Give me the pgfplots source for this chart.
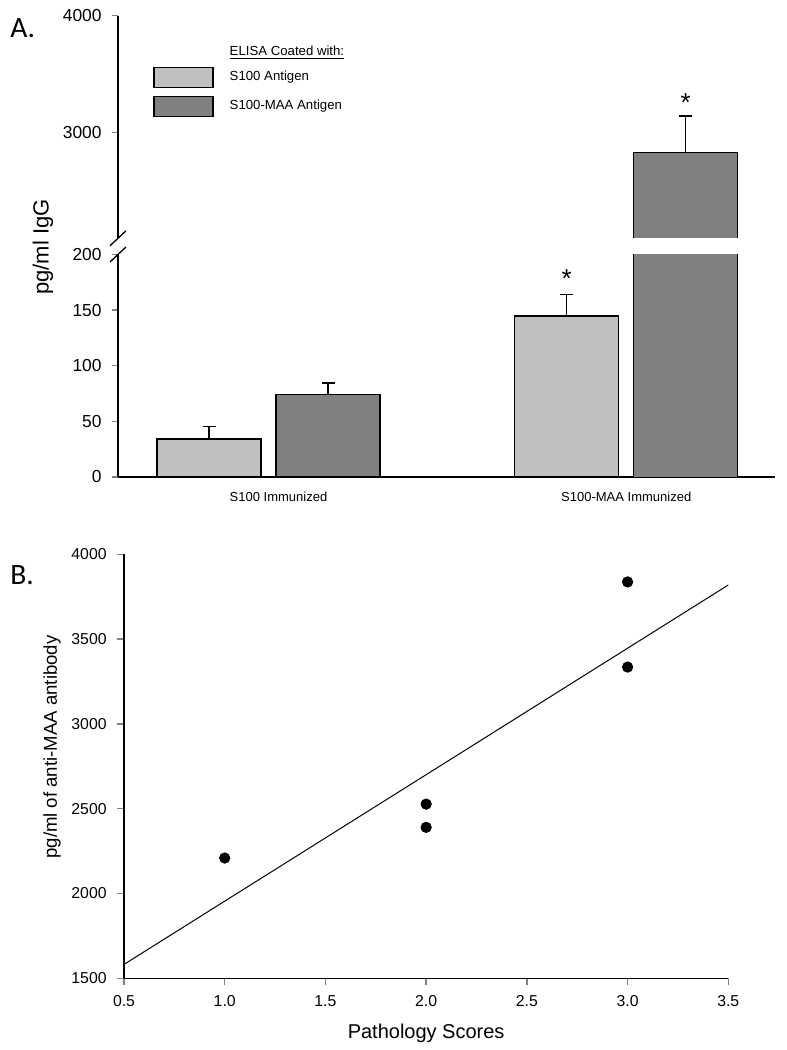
\documentclass[border=0pt]{standalone}
\usepackage{pgfplots}
\pgfplotsset{compat=1.18}
\usepackage{fontspec}
\setmainfont{Liberation Sans}
\newfontfamily\calib{Carlito}
\definecolor{lightbar}{RGB}{192,192,192}
\definecolor{darkbar}{RGB}{128,128,128}
\pgfplotsset{/pgf/number format/assume math mode=true, /pgf/number format/1000 sep={},
  myerr/.style={error bars/.cd, y dir=plus, y explicit,
    error bar style={line width=0.65pt, black},
    error mark options={rotate=90, mark size=3.25pt, line width=0.65pt, black}},
  boxlegend/.style={legend image code/.code={\draw[##1, line width=0.65pt] (0pt,-5pt) rectangle (29.5pt,5pt);}},
  emptybox/.style={legend image code/.code={\path (0pt,-2pt) rectangle (29.5pt,2pt);}}}
\begin{document}
\begin{tikzpicture}[x=1pt,y=1pt]
\useasboundingbox (0,0) rectangle (393.5,525);
% ---------------- Panel A, lower part ----------------
\begin{axis}[name=lowA,
  at={(59pt,286.5pt)}, anchor=south west,
  scale only axis, width=328.5pt, height=111.25pt,
  xmin=0.5793, xmax=2.4158, ymin=0, ymax=200,
  axis x line=bottom, axis y line=left,
  axis line style={-, line width=0.65pt},
  xtick={1,2}, xticklabels={\hspace*{10pt}S100 Immunized, S100-MAA Immunized},
  x tick label style={font=\fontsize{6.5}{7}\selectfont, anchor=base, yshift=-9.25pt},
  major x tick style={draw=none},
  ytick={0,50,...,200},
  tick align=outside, major tick length=3pt,
  major y tick style={line width=0.65pt},
  y tick label style={font=\fontsize{8.7}{9}\selectfont, inner sep=0pt},
  yticklabel shift=5pt,
  ylabel={pg/ml IgG},
  ylabel style={at={(axis description cs:-0.1142,1.0337)}, anchor=center, font=\fontsize{11}{12}\selectfont},
  ybar, bar width=52pt,
]
\addplot[fill=lightbar, draw=black, line width=0.65pt, bar shift=-29.75pt, myerr]
  coordinates {(1,34.2) +- (0,11.4) (2,144.7) +- (0,19.5)};
\addplot[fill=darkbar, draw=black, line width=0.65pt, bar shift=29.75pt, myerr]
  coordinates {(1,74.3) +- (0,10.2)};
% broken bar: fill only, then its two sides
\addplot[fill=darkbar, draw=none, bar shift=29.75pt]
  coordinates {(2,2832)};
\addplot[sharp plot, bar shift=0pt, fill=none, black, line width=0.65pt] coordinates {(2.02096,0) (2.02096,200)};
\addplot[sharp plot, bar shift=0pt, fill=none, black, line width=0.65pt] coordinates {(2.31168,0) (2.31168,200)};
\node[anchor=base, xshift=-29.75pt, inner sep=0pt, font=\fontsize{13}{13}\selectfont] at (axis cs:2,170) {*};
\end{axis}
% ---------------- Panel A, upper part ----------------
\begin{axis}[name=upA,
  at={(59pt,405.85pt)}, anchor=south west,
  scale only axis, width=328.5pt, height=111.33pt,
  xmin=0.5793, xmax=2.4158, ymin=2100, ymax=4000.5,
  axis x line=bottom, axis y line=left,
  x axis line style={draw=none}, xtick=\empty,
  axis line style={-, line width=0.65pt},
  ytick={3000,4000},
  tick align=outside, major tick length=3pt,
  major y tick style={line width=0.65pt},
  y tick label style={font=\fontsize{8.7}{9}\selectfont, inner sep=0pt, anchor=east},
  yticklabel shift=5pt,
  ybar, bar width=52pt,
  legend style={at={(axis description cs:0.0533,0.865)}, anchor=north west, draw=none, fill=none,
    font=\fontsize{6.6}{7}\selectfont, row sep=4pt, column sep=8pt, inner sep=0pt,
    nodes={inner sep=0pt, anchor=west}},
  legend cell align=left,
]
\addlegendimage{draw=none, fill=none, emptybox}
\addlegendentry{\underline{ELISA Coated with:}}
\addlegendimage{fill=lightbar, draw=black, boxlegend}
\addlegendentry{S100 Antigen}
\addlegendimage{fill=darkbar, draw=black, boxlegend}
\addlegendentry{S100-MAA Antigen}
\addplot[forget plot, fill=darkbar, draw=none, bar shift=29.75pt, myerr]
  coordinates {(2,2832) +- (0,313)};
\addplot[forget plot, sharp plot, bar shift=0pt, fill=none, black, line width=0.65pt]
  coordinates {(2.02096,2100) (2.02096,2832) (2.31168,2832) (2.31168,2100)};
\node[anchor=base, xshift=29.75pt, inner sep=0pt, font=\fontsize{13}{13}\selectfont] at (axis cs:2,3181) {*};
\end{axis}
% axis break marks
\draw[line width=0.65pt] (upA.south west) ++(-4pt,-3.75pt) -- ++(8pt,7.5pt);
\draw[line width=0.65pt] (lowA.north west) ++(-4pt,-3.75pt) -- ++(8pt,7.5pt);
\node[anchor=base west, inner sep=0pt, font=\calib\fontsize{14.75}{15}\selectfont] at (5,506) {A.};
% ---------------- Panel B ----------------
\begin{axis}[name=B,
  at={(62pt,35.85pt)}, anchor=south west,
  scale only axis, width=302.15pt, height=212pt,
  xmin=0.5, xmax=3.5, ymin=1500, ymax=4000,
  axis x line=bottom, axis y line=left,
  axis line style={-, line width=0.65pt},
  xtick={0.5,1,...,3.5}, ytick={1500,2000,...,4000},
  tick align=outside, major tick length=3.5pt,
  major tick style={line width=0.65pt},
  x tick label style={font=\fontsize{7.9}{8}\selectfont, inner sep=0pt, /pgf/number format/.cd, fixed, fixed zerofill, precision=1},
  y tick label style={font=\fontsize{7.9}{8}\selectfont, inner sep=0pt},
  xticklabel shift=4.85pt, yticklabel shift=5pt,
  xlabel={Pathology Scores},
  xlabel style={at={(axis description cs:0.5,0)}, anchor=base, yshift=-29.9pt, font=\fontsize{10}{11}\selectfont},
  ylabel={pg/ml of anti-MAA antibody},
  ylabel style={at={(axis description cs:-0.1191,0.5455)}, anchor=center, font=\fontsize{9.3}{10}\selectfont},
]
\addplot[black, line width=0.5pt] coordinates {(0.5,1582) (3.5,3819)};
\addplot[only marks, mark=*, mark size=2.6pt, black] coordinates {(1,2209) (2,2527) (2,2390) (3,3837) (3,3335)};
\end{axis}
\node[anchor=base west, inner sep=0pt, font=\calib\fontsize{14.75}{15}\selectfont] at (5,232.5) {B.};
\end{tikzpicture}
\end{document}
